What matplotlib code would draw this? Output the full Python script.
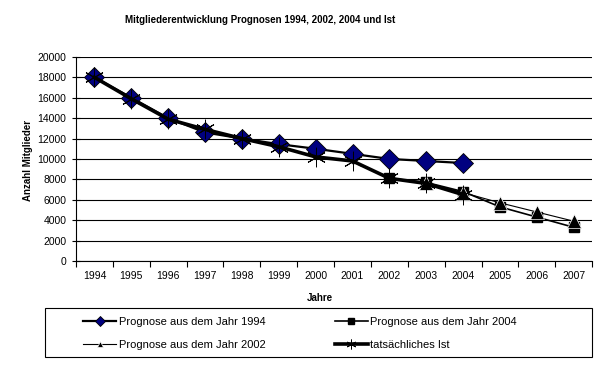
import matplotlib.pyplot as plt
from matplotlib.patches import Rectangle
import numpy as np

plt.rcParams['font.family'] = ['Liberation Sans', 'DejaVu Sans']

jahre = [1994, 1995, 1996, 1997, 1998, 1999, 2000, 2001, 2002, 2003, 2004, 2005, 2006, 2007]

# Prognose 1994 (1994-2004)
prog1994 = [18000, 16000, 14000, 12600, 12000, 11450, 11000, 10500, 10000, 9800, 9600]
# Prognose 2004 (2002-2007)
prog2004_jahre = [2002, 2003, 2004, 2005, 2006, 2007]
prog2004 = [8100, 7700, 6800, 5300, 4300, 3300]
# Prognose 2002 (2003-2007)
prog2002_jahre = [2003, 2004, 2005, 2006, 2007]
prog2002 = [7600, 6700, 5700, 4800, 3900]
# tatsaechliches Ist (1994-2004)
ist = [18000, 15900, 13900, 12900, 12000, 11200, 10200, 9800, 8100, 7600, 6500]

idx = {j: i for i, j in enumerate(jahre)}

fig = plt.figure(figsize=(6.08, 3.65), dpi=100)
ax = fig.add_axes([0.125, 0.285, 0.849, 0.559])

x1994 = [idx[j] for j in jahre[:len(prog1994)]]
x2004 = [idx[j] for j in prog2004_jahre]
x2002 = [idx[j] for j in prog2002_jahre]
xist = [idx[j] for j in jahre[:len(ist)]]

l1, = ax.plot(x1994, prog1994, color='black', lw=1.6, marker='D', markersize=10,
              markerfacecolor='#000080', markeredgecolor='black', markeredgewidth=0.6, zorder=3)
l3, = ax.plot(x2004, prog2004, color='black', lw=1.2, marker='s', markersize=7.5,
              markerfacecolor='black', markeredgecolor='black', zorder=4)
l2, = ax.plot(x2002, prog2002, color='black', lw=0.8, marker='^', markersize=10,
              markerfacecolor='black', markeredgecolor='white', markeredgewidth=0.5, zorder=5)
l4, = ax.plot(xist, ist, color='black', lw=2.6, marker=(6, 2, 0), markersize=14,
              markeredgecolor='black', markeredgewidth=0.7, zorder=6)

ax.set_xlim(-0.5, len(jahre) - 0.5)
ax.set_ylim(0, 20000)
ax.set_yticks(np.arange(0, 20001, 2000))
ax.yaxis.grid(True, color='black', lw=0.8)
ax.set_axisbelow(True)

ax.set_xticks(np.arange(-0.5, len(jahre), 1))
ax.set_xticklabels([])
ax.set_xticks(np.arange(len(jahre)), minor=True)
ax.set_xticklabels([str(j) for j in jahre], minor=True)
ax.tick_params(axis='x', which='major', direction='out', length=4, width=0.8)
ax.tick_params(axis='x', which='minor', length=0, labelsize=7.5, pad=7)
ax.tick_params(axis='y', direction='inout', length=6, width=0.8, labelsize=7.5, pad=4)

for s in ['top', 'right']:
    ax.spines[s].set_visible(False)
ax.spines['left'].set_linewidth(0.8)
ax.spines['bottom'].set_linewidth(0.8)

fig.text(0.428, 0.945, 'Mitgliederentwicklung Prognosen 1994, 2002, 2004 und Ist',
         ha='center', va='center', fontsize=7, fontweight='bold')
fig.text(0.526, 0.184, 'Jahre', ha='center', va='center', fontsize=7, fontweight='bold')
fig.text(0.046, 0.56, 'Anzahl Mitglieder', ha='center', va='center', rotation=90,
         fontsize=7, fontweight='bold')

# Legendenrahmen
fig.patches.append(Rectangle((45 / 608, 8 / 365), 547 / 608, 49 / 365,
                             transform=fig.transFigure, fill=False,
                             edgecolor='black', lw=0.8))

leg = fig.legend([l1, l2, l3, l4],
                 ['Prognose aus dem Jahr 1994', 'Prognose aus dem Jahr 2002',
                  'Prognose aus dem Jahr 2004', 'tatsächliches Ist'],
                 ncol=2, loc='upper left', bbox_to_anchor=(83 / 608, 48 / 365),
                 fontsize=8, frameon=False,
                 markerscale=0.5, handlelength=3.0, handletextpad=0.2,
                 columnspacing=6.25, borderaxespad=0, labelspacing=1.15, borderpad=0)

plt.savefig('out.png', dpi=100)
